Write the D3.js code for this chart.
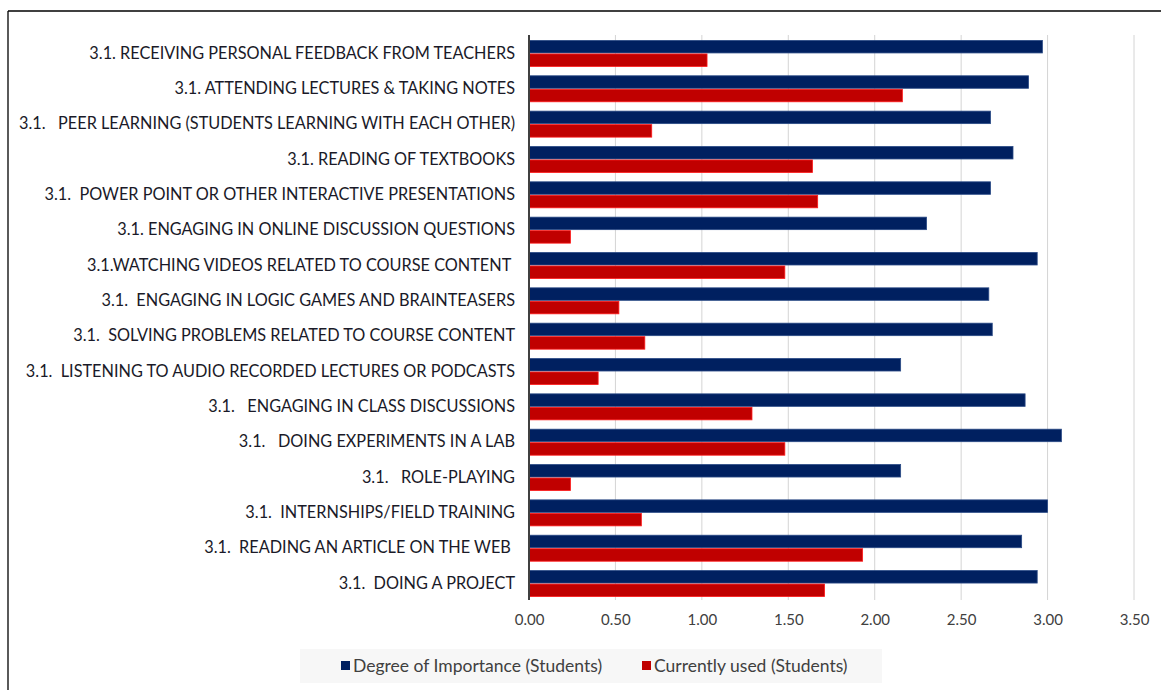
<!DOCTYPE html>
<html>
<head>
<meta charset="utf-8">
<script src="https://cdn.jsdelivr.net/npm/d3@7"></script>
<style>
  body { margin: 0; background: #fff; }
  svg { display: block; font-family: Lato, "Open Sans", sans-serif; }
  .cat text { white-space: pre; }
</style>
</head>
<body>
<svg id="chart" width="1161" height="690"></svg>
<script>
const categories = [
  "3.1. RECEIVING PERSONAL FEEDBACK FROM TEACHERS",
  "3.1. ATTENDING LECTURES & TAKING NOTES",
  "3.1.   PEER LEARNING (STUDENTS LEARNING WITH EACH OTHER)",
  "3.1. READING OF TEXTBOOKS",
  "3.1.  POWER POINT OR OTHER INTERACTIVE PRESENTATIONS",
  "3.1. ENGAGING IN ONLINE DISCUSSION QUESTIONS",
  "3.1.WATCHING VIDEOS RELATED TO COURSE CONTENT ",
  "3.1.  ENGAGING IN LOGIC GAMES AND BRAINTEASERS",
  "3.1.  SOLVING PROBLEMS RELATED TO COURSE CONTENT",
  "3.1.  LISTENING TO AUDIO RECORDED LECTURES OR PODCASTS",
  "3.1.   ENGAGING IN CLASS DISCUSSIONS",
  "3.1.   DOING EXPERIMENTS IN A LAB",
  "3.1.   ROLE-PLAYING",
  "3.1.  INTERNSHIPS/FIELD TRAINING",
  "3.1.  READING AN ARTICLE ON THE WEB ",
  "3.1.  DOING A PROJECT"
];
const importance = [2.97, 2.89, 2.67, 2.80, 2.67, 2.30, 2.94, 2.66, 2.68, 2.15, 2.87, 3.08, 2.15, 3.00, 2.85, 2.94];
const currentlyUsed = [1.03, 2.16, 0.71, 1.64, 1.67, 0.24, 1.48, 0.52, 0.67, 0.40, 1.29, 1.48, 0.24, 0.65, 1.93, 1.71];
const seriesNames = ["Degree of Importance (Students)", "Currently used (Students)"];
const xTicks = [0, 0.5, 1, 1.5, 2, 2.5, 3, 3.5];

const colors = ["#002060", "#c00000"];
const strokes = ["#2a4a86", "#ff1a1a"];

const svg = d3.select("#chart");
const margin = { top: 35, left: 529, right: 27, bottom: 88 };
const width = 1161, height = 690;

// frame (only top and left edges show in the crop)
svg.append("line").attr("x1", 8).attr("x2", width).attr("y1", 11).attr("y2", 11)
  .attr("stroke", "#000").attr("stroke-width", 1.3);
svg.append("line").attr("x1", 8).attr("x2", 8).attr("y1", 11).attr("y2", height)
  .attr("stroke", "#000").attr("stroke-width", 1.3);

const x = d3.scaleLinear().domain([0, 3.5]).range([margin.left, width - margin.right]);
const y = d3.scaleBand().domain(categories).range([margin.top, 602])
  .paddingInner(0.236).paddingOuter(0.14);
const ySub = d3.scaleBand().domain([0, 1]).range([0, y.bandwidth()]);

const plotBottom = 600;

// grid
svg.append("g").selectAll("line").data(xTicks.slice(1)).join("line")
  .attr("x1", d => x(d)).attr("x2", d => x(d))
  .attr("y1", margin.top).attr("y2", plotBottom)
  .attr("stroke", "#d4d4d4").attr("stroke-width", 1);

// bars
const rows = categories.map((c, i) => ({ c, vals: [importance[i], currentlyUsed[i]] }));
svg.append("g").selectAll("g").data(rows).join("g")
  .attr("transform", d => `translate(0,${y(d.c)})`)
  .selectAll("rect").data(d => d.vals.map((v, k) => ({ v, k }))).join("rect")
  .attr("x", x(0))
  .attr("y", d => ySub(d.k) + 0.5)
  .attr("width", d => x(d.v) - x(0))
  .attr("height", ySub.bandwidth() - 1)
  .attr("fill", d => colors[d.k])
  .attr("stroke", d => strokes[d.k])
  .attr("stroke-width", 0.8);

// x axis labels
const xAxis = d3.axisBottom(x).tickValues(xTicks).tickFormat(d3.format(".2f")).tickSize(0).tickPadding(14);
svg.append("g").attr("transform", `translate(0,${plotBottom})`).call(xAxis)
  .call(g => g.select(".domain").remove())
  .call(g => g.selectAll("text").attr("fill", "#404040").style("font-size", "15px")
    .style("font-family", "Lato, 'Open Sans', sans-serif"));

// category axis
const yAxis = d3.axisLeft(y).tickSize(0).tickPadding(14);
svg.append("g").attr("class", "cat").attr("transform", `translate(${x(0)},0)`).call(yAxis)
  .call(g => g.select(".domain").remove())
  .call(g => g.selectAll("text").attr("fill", "#1a1a28").style("font-size", "16.3px")
    .style("font-family", "Lato, 'Open Sans', sans-serif"));

// zero axis line
svg.append("line").attr("x1", x(0)).attr("x2", x(0))
  .attr("y1", margin.top).attr("y2", plotBottom)
  .attr("stroke", "#404040").attr("stroke-width", 2);

// legend
const legend = svg.append("g");
legend.append("rect").attr("x", 300).attr("y", 649).attr("width", 582).attr("height", 34)
  .attr("fill", "#f7f7f7");
const legendX = [341, 642];
seriesNames.forEach((name, k) => {
  legend.append("rect").attr("x", legendX[k]).attr("y", 661).attr("width", 9).attr("height", 9)
    .attr("fill", colors[k]);
  legend.append("text").attr("x", legendX[k] + 12).attr("y", 666).attr("dy", "0.35em")
    .attr("fill", "#404040").style("font-size", "17.5px").text(name);
});
</script>
</body>
</html>
